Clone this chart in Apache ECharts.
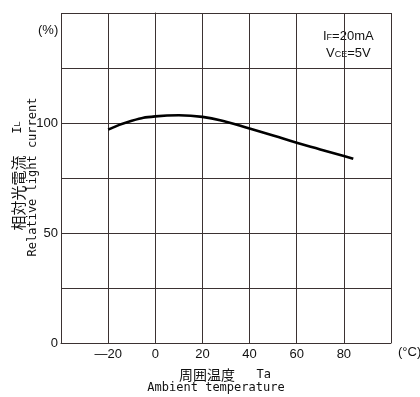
<!DOCTYPE html>
<html>
<head>
<meta charset="utf-8">
<script src="https://cdn.jsdelivr.net/npm/echarts@6/dist/echarts.min.js"></script>
<style>
html,body{margin:0;padding:0;background:#fff;}
#c{width:420px;height:397px;}
</style>
</head>
<body>
<div id="c"></div>
<script>
// Data
var temperature = [-20, -10, 0, 10, 20, 30, 40, 50, 60, 70, 80, 84];
var relCurrent  = [97, 101, 103, 103.5, 102.8, 100.6, 97.5, 94.3, 91, 88, 85, 83.8];
var xTickLabels = [-20, 0, 20, 40, 60, 80];
var yTickLabels = [0, 50, 100];

var seriesData = temperature.map(function (t, i) { return [t, relCurrent[i]]; });

var chart = echarts.init(document.getElementById('c'), null, {renderer: 'canvas'});
var gridColor = '#3b3232';
var tickFont = '"Liberation Sans Narrow", "Liberation Sans", sans-serif';
var monoFont = '"DejaVu Sans Mono", monospace';
var cjkFont = '"Noto Sans CJK JP", sans-serif';

chart.setOption({
  animation: false,
  backgroundColor: '#fff',
  grid: {left: 61, right: 29, top: 13, bottom: 54, containLabel: false},
  xAxis: {
    type: 'value', min: -40, max: 100, interval: 20,
    axisLine: {show: true, lineStyle: {color: gridColor, width: 1}},
    axisTick: {show: false},
    splitLine: {show: true, lineStyle: {color: gridColor, width: 1}},
    axisLabel: {
      margin: 5, color: '#111', fontSize: 13, fontFamily: tickFont,
      formatter: function (v) {
        if (xTickLabels.indexOf(v) < 0) return '';
        return v < 0 ? '\u2014' + Math.abs(v) : String(v);
      }
    }
  },
  yAxis: {
    type: 'value', min: 0, max: 150, interval: 25,
    axisLine: {show: true, lineStyle: {color: gridColor, width: 1}},
    axisTick: {show: false},
    splitLine: {show: true, lineStyle: {color: gridColor, width: 1}},
    axisLabel: {
      margin: 3, color: '#111', fontSize: 13, fontFamily: tickFont,
      formatter: function (v) { return yTickLabels.indexOf(v) >= 0 ? String(v) : ''; }
    }
  },
  series: [{
    type: 'line', data: seriesData, smooth: 0.5, showSymbol: false,
    lineStyle: {color: '#000', width: 2.6}
  }],
  graphic: [
    {type: 'text', x: 38, y: 30, style: {text: '(%)', font: '13px ' + tickFont, fill: '#111', textVerticalAlign: 'middle'}},
    {type: 'text', x: 398, y: 352, style: {text: '(°C)', font: '13px ' + tickFont, fill: '#111', textVerticalAlign: 'middle'}},
    {type: 'text', x: 323, y: 36, style: {
      text: 'I{s|F}=20mA', fill: '#111', font: '13px ' + tickFont, textVerticalAlign: 'middle',
      rich: {s: {fontSize: 9, fontFamily: tickFont, padding: [3, 0, 0, 0]}}
    }},
    {type: 'text', x: 326, y: 53, style: {
      text: 'V{s|CE}=5V', fill: '#111', font: '13px ' + tickFont, textVerticalAlign: 'middle',
      rich: {s: {fontSize: 9, fontFamily: tickFont, padding: [3, 0, 0, 0]}}
    }},
    {type: 'text', x: 18, y: 176, rotation: Math.PI / 2, style: {
      text: '{c|相対光電流}   I{s|L}', fill: '#111', font: '12px ' + monoFont,
      textAlign: 'center', textVerticalAlign: 'middle',
      rich: {c: {fontFamily: cjkFont, fontSize: 15}, s: {fontSize: 9, fontFamily: tickFont}}
    }},
    {type: 'text', x: 33, y: 177, rotation: Math.PI / 2, style: {
      text: 'Relative light current', fill: '#111', font: '12px ' + monoFont,
      textAlign: 'center', textVerticalAlign: 'middle'
    }},
    {type: 'text', x: 225, y: 375, style: {
      text: '{c|周囲温度}   Ta', fill: '#111', font: '12px ' + monoFont,
      textAlign: 'center', textVerticalAlign: 'middle',
      rich: {c: {fontFamily: cjkFont, fontSize: 14}}
    }},
    {type: 'text', x: 216, y: 388, style: {
      text: 'Ambient temperature', fill: '#111', font: '12px ' + monoFont,
      textAlign: 'center', textVerticalAlign: 'middle'
    }}
  ]
});
</script>
</body>
</html>
